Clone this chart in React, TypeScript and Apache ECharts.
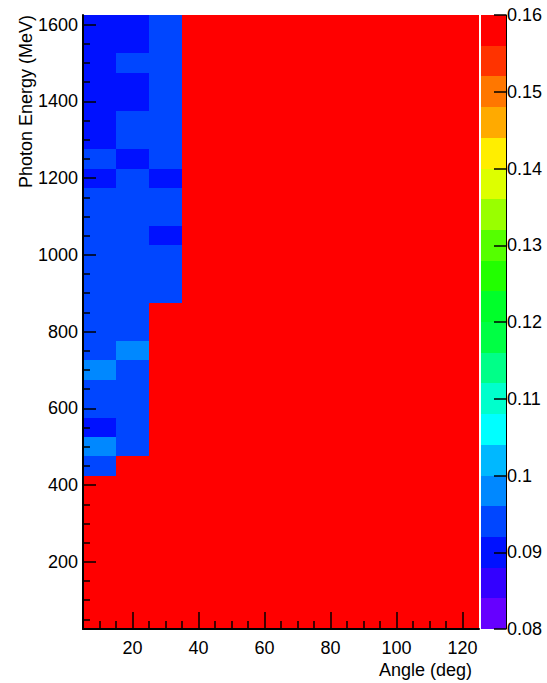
import React, { useEffect, useRef } from "react";
import * as echarts from "echarts";

// ---- data ----
const ANGLE_CENTERS = [10, 20, 30, 40, 50, 60, 70, 80, 90, 100, 110, 120];
const ANGLE_BIN = 10;
const ENERGY_CENTERS = [
  1600, 1550, 1500, 1450, 1400, 1350, 1300, 1250, 1200, 1150, 1100, 1050, 1000, 950, 900, 850,
  800, 750, 700, 650, 600, 550, 500, 450, 400, 350, 300, 250, 200, 150, 100, 50,
];
const ENERGY_BIN = 50;
// one row per energy bin (top to bottom), one value per angle bin
const VALUES: number[][] = [
  [0.090, 0.090, 0.094, 0.16, 0.16, 0.16, 0.16, 0.16, 0.16, 0.16, 0.16, 0.16],
  [0.090, 0.090, 0.094, 0.16, 0.16, 0.16, 0.16, 0.16, 0.16, 0.16, 0.16, 0.16],
  [0.090, 0.094, 0.094, 0.16, 0.16, 0.16, 0.16, 0.16, 0.16, 0.16, 0.16, 0.16],
  [0.090, 0.090, 0.094, 0.16, 0.16, 0.16, 0.16, 0.16, 0.16, 0.16, 0.16, 0.16],
  [0.090, 0.090, 0.094, 0.16, 0.16, 0.16, 0.16, 0.16, 0.16, 0.16, 0.16, 0.16],
  [0.090, 0.094, 0.094, 0.16, 0.16, 0.16, 0.16, 0.16, 0.16, 0.16, 0.16, 0.16],
  [0.090, 0.094, 0.094, 0.16, 0.16, 0.16, 0.16, 0.16, 0.16, 0.16, 0.16, 0.16],
  [0.094, 0.090, 0.094, 0.16, 0.16, 0.16, 0.16, 0.16, 0.16, 0.16, 0.16, 0.16],
  [0.090, 0.094, 0.090, 0.16, 0.16, 0.16, 0.16, 0.16, 0.16, 0.16, 0.16, 0.16],
  [0.094, 0.094, 0.094, 0.16, 0.16, 0.16, 0.16, 0.16, 0.16, 0.16, 0.16, 0.16],
  [0.094, 0.094, 0.094, 0.16, 0.16, 0.16, 0.16, 0.16, 0.16, 0.16, 0.16, 0.16],
  [0.094, 0.094, 0.090, 0.16, 0.16, 0.16, 0.16, 0.16, 0.16, 0.16, 0.16, 0.16],
  [0.094, 0.094, 0.094, 0.16, 0.16, 0.16, 0.16, 0.16, 0.16, 0.16, 0.16, 0.16],
  [0.094, 0.094, 0.094, 0.16, 0.16, 0.16, 0.16, 0.16, 0.16, 0.16, 0.16, 0.16],
  [0.094, 0.094, 0.094, 0.16, 0.16, 0.16, 0.16, 0.16, 0.16, 0.16, 0.16, 0.16],
  [0.094, 0.094, 0.16, 0.16, 0.16, 0.16, 0.16, 0.16, 0.16, 0.16, 0.16, 0.16],
  [0.094, 0.094, 0.16, 0.16, 0.16, 0.16, 0.16, 0.16, 0.16, 0.16, 0.16, 0.16],
  [0.094, 0.098, 0.16, 0.16, 0.16, 0.16, 0.16, 0.16, 0.16, 0.16, 0.16, 0.16],
  [0.098, 0.094, 0.16, 0.16, 0.16, 0.16, 0.16, 0.16, 0.16, 0.16, 0.16, 0.16],
  [0.094, 0.094, 0.16, 0.16, 0.16, 0.16, 0.16, 0.16, 0.16, 0.16, 0.16, 0.16],
  [0.094, 0.094, 0.16, 0.16, 0.16, 0.16, 0.16, 0.16, 0.16, 0.16, 0.16, 0.16],
  [0.090, 0.094, 0.16, 0.16, 0.16, 0.16, 0.16, 0.16, 0.16, 0.16, 0.16, 0.16],
  [0.098, 0.094, 0.16, 0.16, 0.16, 0.16, 0.16, 0.16, 0.16, 0.16, 0.16, 0.16],
  [0.094, 0.16, 0.16, 0.16, 0.16, 0.16, 0.16, 0.16, 0.16, 0.16, 0.16, 0.16],
  [0.16, 0.16, 0.16, 0.16, 0.16, 0.16, 0.16, 0.16, 0.16, 0.16, 0.16, 0.16],
  [0.16, 0.16, 0.16, 0.16, 0.16, 0.16, 0.16, 0.16, 0.16, 0.16, 0.16, 0.16],
  [0.16, 0.16, 0.16, 0.16, 0.16, 0.16, 0.16, 0.16, 0.16, 0.16, 0.16, 0.16],
  [0.16, 0.16, 0.16, 0.16, 0.16, 0.16, 0.16, 0.16, 0.16, 0.16, 0.16, 0.16],
  [0.16, 0.16, 0.16, 0.16, 0.16, 0.16, 0.16, 0.16, 0.16, 0.16, 0.16, 0.16],
  [0.16, 0.16, 0.16, 0.16, 0.16, 0.16, 0.16, 0.16, 0.16, 0.16, 0.16, 0.16],
  [0.16, 0.16, 0.16, 0.16, 0.16, 0.16, 0.16, 0.16, 0.16, 0.16, 0.16, 0.16],
  [0.16, 0.16, 0.16, 0.16, 0.16, 0.16, 0.16, 0.16, 0.16, 0.16, 0.16, 0.16],
];

// tick labels
const X_MAJOR = [20, 40, 60, 80, 100, 120];
const X_MINOR = [10, 15, 25, 30, 35, 45, 50, 55, 65, 70, 75, 85, 90, 95, 105, 110, 115];
const Y_MAJOR = [200, 400, 600, 800, 1000, 1200, 1400, 1600];
const Y_MINOR = [
  50, 100, 150, 250, 300, 350, 450, 500, 550, 650, 700, 750, 850, 900, 950, 1050, 1100, 1150,
  1250, 1300, 1350, 1450, 1500, 1550,
];

// colour scale (20 contour levels)
const LEVEL_EDGES = [
  0.08, 0.084, 0.088, 0.092, 0.096, 0.1, 0.104, 0.108, 0.112, 0.116, 0.12, 0.124, 0.128, 0.132,
  0.136, 0.14, 0.144, 0.148, 0.152, 0.156, 0.16,
];
const PALETTE = [
  "#6600ff", "#3300ff", "#0011ff", "#0046ff", "#0088ff", "#00b8ff", "#00ffff", "#00ffcc",
  "#00ff88", "#00ff44", "#00ff2a", "#22ff00", "#55ff00", "#99ff00", "#ddff00", "#ffee00",
  "#ffaa00", "#ff7700", "#ff3300", "#ff0000",
];

const X_TITLE = "Angle (deg)";
const Y_TITLE = "Photon Energy (MeV)";
const FONT = "'Liberation Sans', Arial, Helvetica, sans-serif";

export default function App() {
  const ref = useRef<HTMLDivElement>(null);
  useEffect(() => {
    if (!ref.current) return;
    const chart = echarts.init(ref.current, null, { renderer: "svg" });

    const heatData: number[][] = [];
    ENERGY_CENTERS.forEach((e, r) => {
      ANGLE_CENTERS.forEach((a, c) => {
        heatData.push([a, e, VALUES[r][c]]);
      });
    });
    const barData: number[][] = PALETTE.map((_, i) => [
      0.5,
      LEVEL_EDGES[i],
      (LEVEL_EDGES[i] + LEVEL_EDGES[i + 1]) / 2,
      LEVEL_EDGES[i + 1],
    ]);
    const pieces = PALETTE.map((color, i) => {
      const p: any = { color };
      if (i > 0) p.gte = LEVEL_EDGES[i];
      if (i < PALETTE.length - 1) p.lt = LEVEL_EDGES[i + 1];
      return p;
    });

    const labelStyle = { color: "#000", fontSize: 18, fontFamily: FONT };
    const tickLine = { color: "#000", width: 1.5 };
    const plain = (v: number) => String(v);

    chart.setOption({
      animation: false,
      backgroundColor: "#fff",
      grid: [
        { left: 83, top: 15, width: 396, height: 614 },
        { left: 481, top: 15, width: 25, height: 614 },
      ],
      visualMap: {
        type: "piecewise",
        show: false,
        dimension: 2,
        seriesIndex: [0, 1],
        pieces,
      },
      xAxis: [
        {
          gridIndex: 0,
          type: "value",
          min: 5,
          max: 125,
          position: "bottom",
          z: 10,
          axisLine: { show: true, onZero: false, lineStyle: { color: "#000", width: 2 } },
          axisTick: { show: true, inside: true, length: 17, customValues: X_MAJOR, lineStyle: tickLine },
          axisLabel: { show: true, customValues: X_MAJOR, margin: 10, formatter: plain, ...labelStyle },
          splitLine: { show: false },
        },
        {
          gridIndex: 0,
          type: "value",
          min: 5,
          max: 125,
          position: "bottom",
          z: 10,
          axisLine: { show: false, onZero: false },
          axisTick: { show: true, inside: true, length: 8, customValues: X_MINOR, lineStyle: tickLine },
          axisLabel: { show: false },
          splitLine: { show: false },
        },
        { gridIndex: 1, type: "value", min: 0, max: 1, show: false },
      ],
      yAxis: [
        {
          gridIndex: 0,
          type: "value",
          min: 25,
          max: 1625,
          position: "left",
          z: 10,
          axisLine: { show: true, onZero: false, lineStyle: { color: "#000", width: 2 } },
          axisTick: { show: true, inside: true, length: 13, customValues: Y_MAJOR, lineStyle: tickLine },
          axisLabel: { show: true, customValues: Y_MAJOR, margin: 5, formatter: plain, ...labelStyle },
          splitLine: { show: false },
        },
        {
          gridIndex: 0,
          type: "value",
          min: 25,
          max: 1625,
          position: "left",
          z: 10,
          axisLine: { show: false, onZero: false },
          axisTick: { show: true, inside: true, length: 7, customValues: Y_MINOR, lineStyle: tickLine },
          axisLabel: { show: false },
          splitLine: { show: false },
        },
        {
          gridIndex: 1,
          type: "value",
          min: 0.08,
          max: 0.16,
          interval: 0.01,
          position: "right",
          z: 10,
          axisLine: { show: true, onZero: false, lineStyle: { color: "#000", width: 1 } },
          axisTick: { show: true, inside: true, length: 12, lineStyle: tickLine },
          axisLabel: { show: true, margin: 1, ...labelStyle },
          splitLine: { show: false },
        },
      ],
      series: [
        {
          type: "custom",
          xAxisIndex: 0,
          yAxisIndex: 0,
          z: 1,
          data: heatData,
          encode: { x: 0, y: 1 },
          renderItem: (params: any, api: any) => {
            const a = api.value(0);
            const e = api.value(1);
            const p0 = api.coord([a - ANGLE_BIN / 2, e + ENERGY_BIN / 2]);
            const p1 = api.coord([a + ANGLE_BIN / 2, e - ENERGY_BIN / 2]);
            const x0 = Math.round(p0[0]);
            const y0 = Math.round(p0[1]);
            const x1 = Math.round(p1[0]);
            const y1 = Math.round(p1[1]);
            return {
              type: "rect",
              shape: { x: x0, y: y0, width: x1 - x0, height: y1 - y0 },
              style: { fill: api.visual("color") },
            };
          },
        },
        {
          type: "custom",
          xAxisIndex: 2,
          yAxisIndex: 2,
          z: 1,
          data: barData,
          encode: { x: 0, y: [1, 3] },
          renderItem: (params: any, api: any) => {
            const p0 = api.coord([0, api.value(3)]);
            const p1 = api.coord([1, api.value(1)]);
            const x0 = Math.round(p0[0]);
            const y0 = Math.round(p0[1]);
            const x1 = Math.round(p1[0]);
            const y1 = Math.round(p1[1]);
            return {
              type: "rect",
              shape: { x: x0, y: y0, width: x1 - x0, height: y1 - y0 },
              style: { fill: api.visual("color") },
            };
          },
        },
      ],
      graphic: [
        {
          type: "text",
          x: 472,
          y: 670,
          style: {
            text: X_TITLE,
            fill: "#000",
            fontSize: 18,
            fontFamily: FONT,
            textAlign: "right",
            textVerticalAlign: "middle",
          },
        },
        {
          type: "text",
          x: 26,
          y: 15,
          rotation: Math.PI / 2,
          style: {
            text: Y_TITLE,
            fill: "#000",
            fontSize: 18,
            fontFamily: FONT,
            textAlign: "right",
            textVerticalAlign: "middle",
          },
        },
      ],
    });
    return () => chart.dispose();
  }, []);
  return (
    <div
      ref={ref}
      style={{ position: "fixed", left: 0, top: 0, width: 547, height: 683, background: "#fff" }}
    />
  );
}
